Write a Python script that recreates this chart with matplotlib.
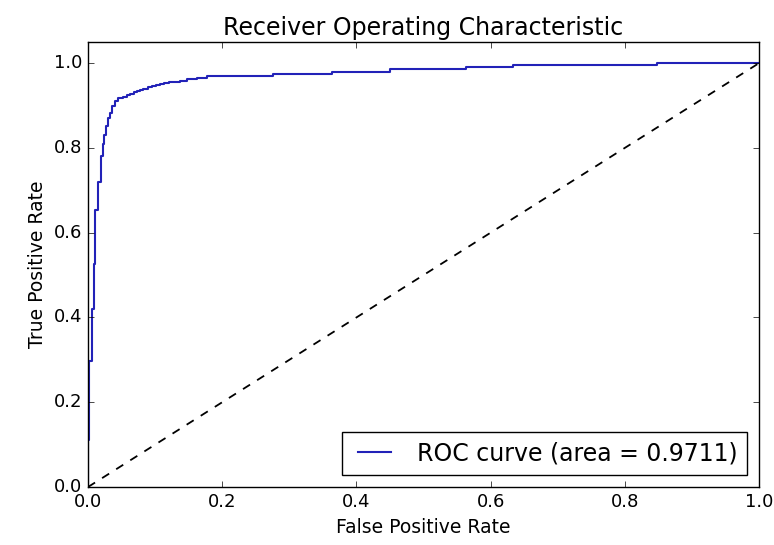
import matplotlib
matplotlib.use("Agg")
import matplotlib.pyplot as plt

# ROC corner points (tops of each vertical step)
fpr = [0.0, 0.0, 0.002, 0.0055, 0.009, 0.011, 0.015, 0.019, 0.022, 0.024, 0.027,
       0.030, 0.033, 0.036, 0.040, 0.045, 0.052, 0.058, 0.063, 0.068, 0.073,
       0.078, 0.082, 0.089, 0.095, 0.101, 0.107, 0.114, 0.120, 0.137, 0.147,
       0.162, 0.177, 0.276, 0.363, 0.45, 0.564, 0.634, 0.848, 1.0]
tpr = [0.0, 0.11, 0.297, 0.42, 0.527, 0.653, 0.719, 0.782, 0.81, 0.83, 0.852,
       0.871, 0.883, 0.899, 0.911, 0.917, 0.921, 0.924, 0.928, 0.931, 0.934,
       0.937, 0.940, 0.943, 0.945, 0.948, 0.951, 0.954, 0.956, 0.959, 0.963,
       0.966, 0.970, 0.975, 0.979, 0.986, 0.990, 0.995, 1.0, 1.0]
roc_auc = 0.9711

plt.style.use("classic")
fig = plt.figure(figsize=(7.74, 5.45), dpi=100)
ax = fig.add_axes([0.1137, 0.1064, 0.8669, 0.8166])

ax.step(fpr, tpr, where="post", color="#2222b8", lw=1.5,
        label="ROC curve (area = %0.4f)" % roc_auc)
ax.plot([0, 1], [0, 1], "k--", lw=1.3)
ax.set_xlim(0.0, 1.0)
ax.set_ylim(0.0, 1.05)
ax.set_xticks([0.0, 0.2, 0.4, 0.6, 0.8, 1.0])
ax.set_yticks([0.0, 0.2, 0.4, 0.6, 0.8, 1.0])
ax.tick_params(labelsize=13)
ax.set_xlabel("False Positive Rate", fontsize=13.5)
ax.set_ylabel("True Positive Rate", fontsize=13.5)
ax.set_title("Receiver Operating Characteristic", fontsize=17)
ax.legend(loc="lower right", fontsize=17)

fig.savefig("out.png", dpi=100)
